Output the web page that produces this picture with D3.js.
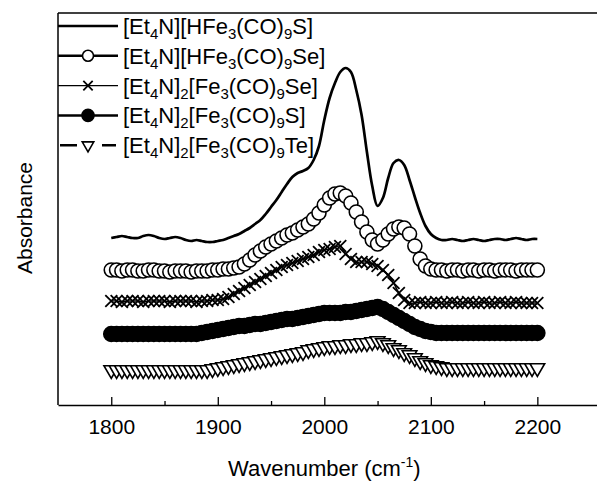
<!DOCTYPE html>
<html>
<head>
<meta charset="utf-8">
<script src="https://cdn.jsdelivr.net/npm/d3@7"></script>
<style>
  body { margin: 0; background: #fff; }
  text { font-family: "Liberation Sans", Arial, sans-serif; fill: #000; }
</style>
</head>
<body>
<div id="chart"></div>
<script>
// figure size
var width = 597,
    height = 484;
var margin = {left: 58, top: 13, right: 0, bottom: 79};

// wavenumber of every recorded point (cm-1)
var wavenumbers = d3.range(1800, 2201, 5);

// absorbance, already stacked with offsets (a.u.)
var absHS = [
  1.67,1.68,1.69,1.68,1.67,1.67,1.69,1.70,1.69,1.67,
  1.66,1.67,1.68,1.67,1.65,1.64,1.65,1.64,1.63,1.63,
  1.64,1.65,1.67,1.69,1.71,1.74,1.77,1.81,1.85,1.91,
  1.98,2.05,2.13,2.21,2.28,2.32,2.34,2.37,2.45,2.59,
  2.85,3.07,3.22,3.33,3.37,3.33,3.15,2.90,2.53,2.19,
  1.99,2.07,2.27,2.42,2.45,2.40,2.25,2.08,1.92,1.79,
  1.71,1.67,1.65,1.65,1.66,1.65,1.64,1.65,1.66,1.65,
  1.64,1.65,1.66,1.66,1.65,1.66,1.67,1.66,1.65,1.66,
  1.66];
var absHSe = [
  1.35,1.35,1.34,1.35,1.35,1.34,1.34,1.35,1.35,1.34,
  1.34,1.33,1.34,1.34,1.34,1.33,1.34,1.34,1.34,1.35,
  1.35,1.36,1.36,1.37,1.38,1.41,1.45,1.50,1.54,1.58,
  1.61,1.64,1.67,1.70,1.72,1.75,1.78,1.81,1.86,1.92,
  2.00,2.07,2.11,2.12,2.09,2.02,1.93,1.83,1.73,1.65,
  1.61,1.65,1.71,1.76,1.78,1.77,1.71,1.59,1.46,1.39,
  1.36,1.35,1.35,1.34,1.35,1.35,1.34,1.35,1.35,1.34,
  1.35,1.35,1.34,1.35,1.35,1.35,1.34,1.35,1.35,1.35,
  1.35];
var absSe = [
  1.04,1.04,1.03,1.04,1.04,1.04,1.03,1.04,1.04,1.04,
  1.04,1.03,1.04,1.04,1.04,1.04,1.03,1.04,1.04,1.05,
  1.05,1.06,1.08,1.11,1.14,1.17,1.20,1.23,1.26,1.29,
  1.32,1.35,1.38,1.40,1.42,1.44,1.46,1.48,1.50,1.53,
  1.55,1.56,1.58,1.59,1.51,1.46,1.43,1.43,1.43,1.41,
  1.39,1.35,1.30,1.22,1.12,1.05,1.02,1.02,1.03,1.02,
  1.02,1.03,1.02,1.02,1.03,1.02,1.02,1.03,1.02,1.02,
  1.03,1.02,1.02,1.03,1.02,1.02,1.03,1.02,1.02,1.02,
  1.02];
var absS = [
  0.71,0.71,0.71,0.71,0.71,0.71,0.71,0.71,0.71,0.71,
  0.71,0.71,0.71,0.71,0.71,0.71,0.71,0.72,0.73,0.74,
  0.75,0.76,0.77,0.78,0.79,0.79,0.80,0.81,0.81,0.82,
  0.83,0.84,0.85,0.86,0.86,0.87,0.88,0.89,0.90,0.91,
  0.92,0.92,0.92,0.92,0.93,0.93,0.94,0.95,0.96,0.97,
  0.98,0.96,0.93,0.90,0.87,0.84,0.81,0.78,0.76,0.74,
  0.73,0.72,0.72,0.72,0.72,0.72,0.72,0.72,0.72,0.72,
  0.72,0.72,0.72,0.72,0.72,0.72,0.72,0.72,0.72,0.72,
  0.72];
var absTe = [
  0.35,0.35,0.35,0.35,0.35,0.35,0.35,0.35,0.35,0.35,
  0.35,0.35,0.35,0.35,0.35,0.35,0.35,0.35,0.35,0.36,
  0.37,0.38,0.39,0.40,0.41,0.42,0.43,0.44,0.45,0.46,
  0.47,0.48,0.49,0.50,0.51,0.52,0.53,0.55,0.56,0.57,
  0.58,0.59,0.59,0.60,0.60,0.61,0.61,0.62,0.62,0.63,
  0.64,0.62,0.60,0.57,0.55,0.52,0.50,0.47,0.44,0.42,
  0.40,0.39,0.38,0.37,0.37,0.37,0.37,0.37,0.37,0.37,
  0.37,0.37,0.37,0.37,0.37,0.37,0.37,0.37,0.37,0.37,
  0.37];

// legend labels, "_" puts the next digit as subscript
var names = [
  "[Et_4N][HFe_3(CO)_9S]",
  "[Et_4N][HFe_3(CO)_9Se]",
  "[Et_4N]_2[Fe_3(CO)_9Se]",
  "[Et_4N]_2[Fe_3(CO)_9S]",
  "[Et_4N]_2[Fe_3(CO)_9Te]"
];
var markers = ["none", "open", "times", "filled", "triangle"];
var series = [absHS, absHSe, absSe, absS, absTe];

var majorTicks = [1800, 1900, 2000, 2100, 2200];
var minorTicks = [1850, 1950, 2050, 2150];

// scales
var x = d3.scaleLinear().domain([1750, 2256]).range([margin.left, width - margin.right]);
var y = d3.scaleLinear().domain([0, 3.92]).range([height - margin.bottom, margin.top]);

var svg = d3.select("#chart").append("svg")
    .attr("width", width)
    .attr("height", height);

// marker drawing, r is the marker half size
function drawMarker(g, type, r) {
    if (type == "open" || type == "filled") {
        g.append("circle")
            .attr("r", type == "filled" ? r + 0.5 : r)
            .style("fill", type == "filled" ? "#000" : "#fff")
            .style("stroke", "#000")
            .style("stroke-width", 1.6);
    } else if (type == "times") {
        var s = r * 0.85;
        g.append("path")
            .attr("d", "M" + (-s) + "," + (-s) + "L" + s + "," + s + "M" + s + "," + (-s) + "L" + (-s) + "," + s)
            .style("fill", "none")
            .style("stroke", "#000")
            .style("stroke-width", 1.8);
    } else if (type == "triangle") {
        g.append("path")
            .attr("d", d3.symbol(d3.symbolTriangle, r * r * 1.9)())
            .attr("transform", "rotate(180)")
            .style("fill", "#fff")
            .style("stroke", "#000")
            .style("stroke-width", 1.6)
            .style("stroke-linejoin", "miter");
    }
}

// curves
var line = d3.line()
    .x(function(d, i){ return x(wavenumbers[i]); })
    .y(function(d){ return y(d); })
    .curve(d3.curveCatmullRom);

series.forEach(function(vals, k){
    var g = svg.append("g").attr("class", "series");
    g.append("path")
        .datum(vals)
        .attr("d", line)
        .style("fill", "none")
        .style("stroke", "#000")
        .style("stroke-width", k == 0 ? 2.7 : (k == 2 ? 1.4 : 2));
    if (markers[k] != "none") {
        g.selectAll(".pt")
            .data(vals)
          .enter().append("g")
            .attr("class", "pt")
            .attr("transform", function(d, i){ return "translate(" + x(wavenumbers[i]) + "," + y(d) + ")"; })
            .each(function(){ drawMarker(d3.select(this), markers[k], 7); });
    }
});

// frame: left, top, bottom
svg.append("line")
    .attr("x1", margin.left).attr("x2", margin.left)
    .attr("y1", margin.top).attr("y2", height - margin.bottom)
    .style("stroke", "#000").style("stroke-width", 1.5);
svg.append("line")
    .attr("x1", margin.left).attr("x2", width)
    .attr("y1", margin.top).attr("y2", margin.top)
    .style("stroke", "#000").style("stroke-width", 1.5);

// x axis with inward ticks
var xAxis = d3.axisBottom(x)
    .tickValues(majorTicks)
    .tickSizeInner(-8)
    .tickSizeOuter(0)
    .tickPadding(14)
    .tickFormat(d3.format("d"));
var ax = svg.append("g")
    .attr("transform", "translate(0," + (height - margin.bottom) + ")")
    .call(xAxis);
ax.select(".domain").style("stroke-width", 1.5);
ax.selectAll(".tick line").style("stroke-width", 1.3);
ax.selectAll(".tick text")
    .style("font-size", "21px")
    .style("font-family", "'Liberation Sans', Arial, sans-serif");

var minorAxis = d3.axisBottom(x)
    .tickValues(minorTicks)
    .tickSizeInner(-4)
    .tickSizeOuter(0)
    .tickFormat("");
var mx = svg.append("g")
    .attr("transform", "translate(0," + (height - margin.bottom) + ")")
    .call(minorAxis);
mx.select(".domain").remove();
mx.selectAll(".tick line").style("stroke-width", 1.3);

// axis titles
var xt = svg.append("text")
    .attr("x", (x(1750) + x(2250)) / 2)
    .attr("y", 476)
    .attr("text-anchor", "middle")
    .style("font-size", "22px");
xt.append("tspan").text("Wavenumber (cm");
xt.append("tspan").attr("dy", -9).style("font-size", "14px").text("-1");
xt.append("tspan").attr("dy", 9).text(")");

svg.append("text")
    .attr("transform", "translate(31.5,218) rotate(-90)")
    .attr("text-anchor", "middle")
    .style("font-size", "21px")
    .text("Absorbance");

// legend
var legend = svg.append("g").attr("class", "legend");
names.forEach(function(name, k){
    var ly = 26 + k * 29.8;
    var g = legend.append("g").attr("transform", "translate(0," + ly + ")");
    var ln = g.append("line")
        .attr("x1", k == 4 ? 60 : margin.left).attr("x2", k == 4 ? 116 : 118)
        .attr("y1", 0).attr("y2", 0)
        .style("stroke", "#000")
        .style("stroke-width", k == 2 ? 1.4 : 2.5);
    if (k == 4) ln.style("stroke-dasharray", "17,25");
    if (markers[k] != "none") {
        var mg = g.append("g").attr("transform", "translate(88,0)");
        if (markers[k] == "open" || markers[k] == "filled") {
            mg.append("rect").attr("x", -6).attr("y", -6).attr("width", 12).attr("height", 12).style("fill", "#fff");
        }
        drawMarker(mg, markers[k], 5.5);
    }
    var t = g.append("text")
        .attr("x", 123)
        .attr("y", 8)
        .style("font-size", "22px");
    var parts = name.split(/_(\d)/);
    parts.forEach(function(p, j){
        if (j % 2 == 1) {
            t.append("tspan").attr("dy", 5).style("font-size", "15px").text(p);
        } else if (p.length) {
            t.append("tspan").attr("dy", j > 0 ? -5 : 0).text(p);
        }
    });
});
</script>
</body>
</html>
